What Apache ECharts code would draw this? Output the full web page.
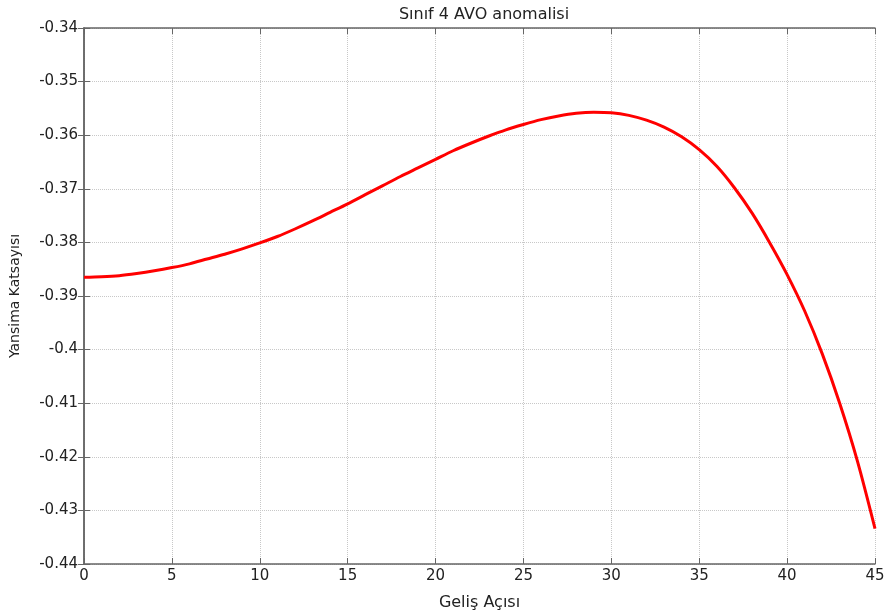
<!DOCTYPE html>
<html><head><meta charset="utf-8">
<script src="https://cdn.jsdelivr.net/npm/echarts@6/dist/echarts.min.js"></script>
<style>html,body{margin:0;padding:0;background:#fff}#c{width:889px;height:616px}</style>
</head><body><div id="c"></div>
<script>
var angles = [0,1,2,3,4,5,6,7,8,9,10,11,12,13,14,15,16,17,18,19,20,21,22,23,24,25,26,27,28,29,30,31,32,33,34,35,36,37,38,39,40,41,42,43,44,45];
var reflection = [-0.3865,-0.3864,-0.3862,-0.3858,-0.3853,-0.3847,-0.3840,-0.3831,-0.3822,-0.3812,-0.3801,-0.3789,-0.3775,-0.3760,-0.3744,-0.3728,-0.3711,-0.3694,-0.3677,-0.3661,-0.3645,-0.3629,-0.3615,-0.3602,-0.3590,-0.3580,-0.3571,-0.3564,-0.3559,-0.3557,-0.3558,-0.3563,-0.3572,-0.3585,-0.3603,-0.3627,-0.3658,-0.3698,-0.3745,-0.3800,-0.3860,-0.3928,-0.4008,-0.4101,-0.4208,-0.4334];
var titleText = "Sınıf 4 AVO anomalisi";
var xName = "Geliş Açısı";
var yName = "Yansima Katsayısı";

var font = "DejaVu Sans, sans-serif";
var chart = echarts.init(document.getElementById('c'));
var data = angles.map(function(a,i){return [a, reflection[i]];});
var axisLineStyle = {color:'#666', width:1.5};
chart.setOption({
  animation:false,
  title:{text:titleText,left:479,textAlign:'center',top:2,textStyle:{fontFamily:font,fontSize:16,fontWeight:'normal',color:'#222'}},
  grid:{left:84,right:14,top:28,bottom:45,containLabel:false},
  xAxis:[{type:'value',min:0,max:45,interval:5,position:'bottom',
    name:xName,nameLocation:'middle',nameGap:31,nameTextStyle:{fontFamily:font,fontSize:16,color:'#222'},
    axisLine:{show:true,lineStyle:axisLineStyle},
    axisTick:{show:true,inside:true,length:6,lineStyle:{color:'#666'}},
    axisLabel:{fontFamily:font,fontSize:15,color:'#222',margin:5},
    splitLine:{show:true,lineStyle:{color:'#c8c8c8',type:'dotted',width:1}}},
   {type:'value',min:0,max:45,interval:5,position:'top',
    axisLine:{show:true,lineStyle:axisLineStyle},
    axisTick:{show:true,inside:true,length:6,lineStyle:{color:'#666'}},
    axisLabel:{show:false},splitLine:{show:false}}],
  yAxis:[{type:'value',min:-0.44,max:-0.34,interval:0.01,position:'left',
    name:yName,nameLocation:'middle',nameGap:62,nameTextStyle:{fontFamily:font,fontSize:14,color:'#222'},
    axisLine:{show:true,lineStyle:axisLineStyle},
    axisTick:{show:true,inside:true,length:6,lineStyle:{color:'#666'}},
    axisLabel:{fontFamily:font,fontSize:15,color:'#222',margin:6,
      formatter:function(v){return String(Math.round(v*100)/100);}},
    splitLine:{show:true,lineStyle:{color:'#c8c8c8',type:'dotted',width:1}}},
   {type:'value',min:-0.44,max:-0.34,interval:0.01,position:'right',
    axisLine:{show:true,lineStyle:axisLineStyle},
    axisTick:{show:true,inside:true,length:6,lineStyle:{color:'#666'}},
    axisLabel:{show:false},splitLine:{show:false}}],
  series:[{type:'line',data:data,smooth:0.3,showSymbol:false,
    lineStyle:{color:'#ff0000',width:3},xAxisIndex:0,yAxisIndex:0}]
});
</script></body></html>
